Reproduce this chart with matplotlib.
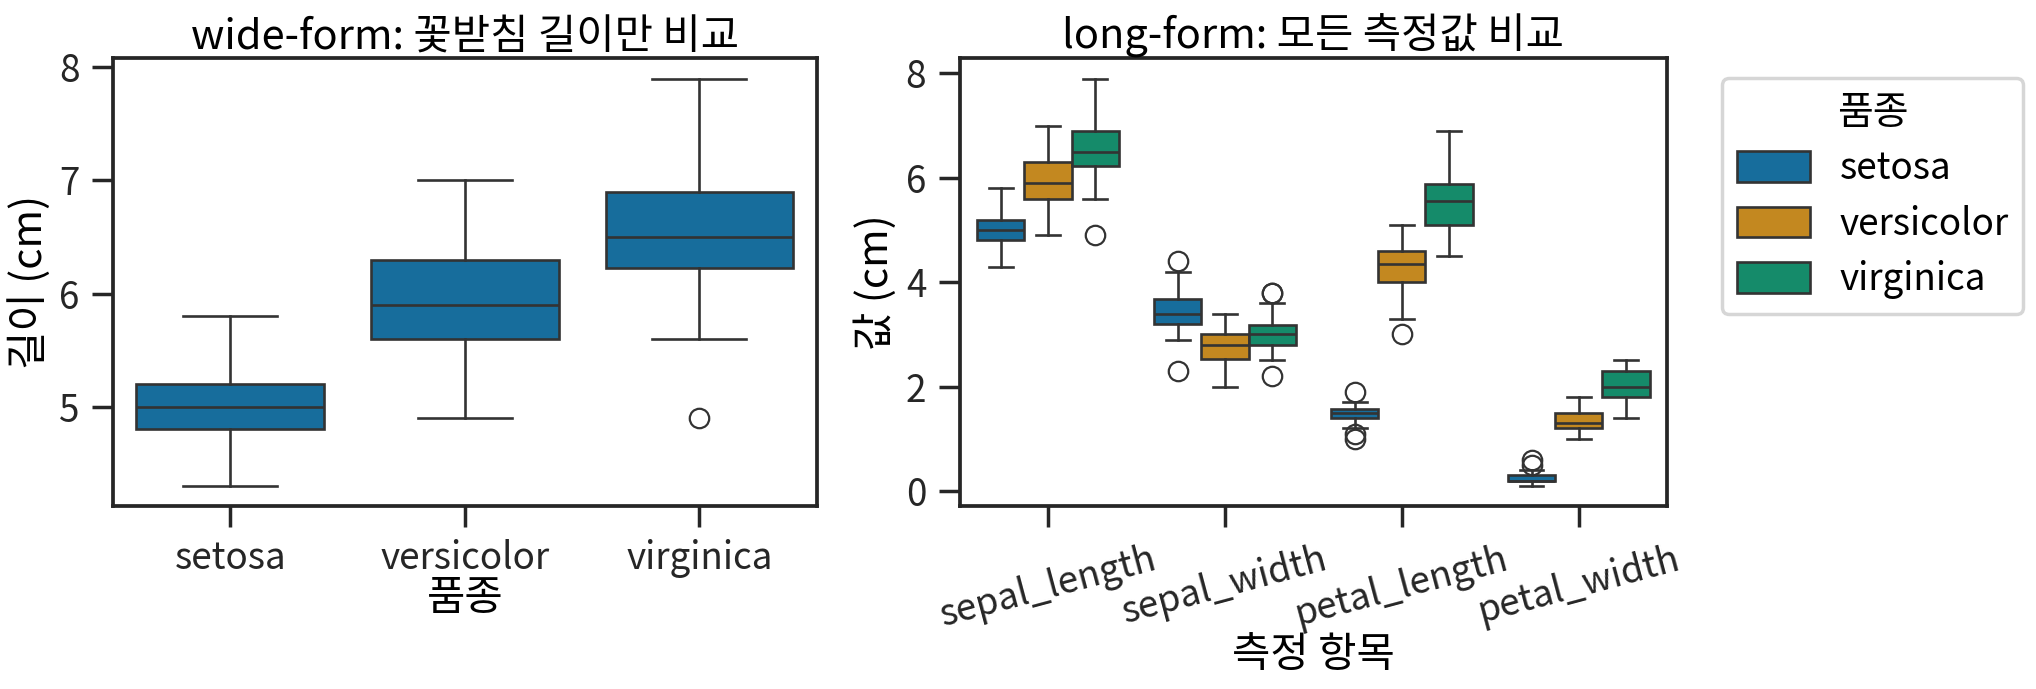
import colorsys
import matplotlib
matplotlib.use("Agg")
import matplotlib.pyplot as plt
from matplotlib.colors import to_rgb
from matplotlib.patches import Patch

plt.rcParams['font.family'] = ['Noto Sans CJK KR', 'DejaVu Sans']
plt.rcParams['axes.unicode_minus'] = False

# iris 요약 통계
species = ["setosa", "versicolor", "virginica"]
measures = ["sepal_length", "sepal_width", "petal_length", "petal_width"]

# [whislo, q1, med, q3, whishi] per species, per measure
stats_sepal_length = {
    "setosa":     [4.3, 4.8, 5.0, 5.2, 5.8],
    "versicolor": [4.9, 5.6, 5.9, 6.3, 7.0],
    "virginica":  [5.6, 6.225, 6.5, 6.9, 7.9],
}
stats_sepal_width = {
    "setosa":     [2.9, 3.2, 3.4, 3.675, 4.2],
    "versicolor": [2.0, 2.525, 2.8, 3.0, 3.4],
    "virginica":  [2.5, 2.8, 3.0, 3.175, 3.6],
}
stats_petal_length = {
    "setosa":     [1.2, 1.4, 1.5, 1.575, 1.7],
    "versicolor": [3.3, 4.0, 4.35, 4.6, 5.1],
    "virginica":  [4.5, 5.1, 5.55, 5.875, 6.9],
}
stats_petal_width = {
    "setosa":     [0.1, 0.2, 0.2, 0.3, 0.4],
    "versicolor": [1.0, 1.2, 1.3, 1.5, 1.8],
    "virginica":  [1.4, 1.8, 2.0, 2.3, 2.5],
}
fliers_sepal_length = {"setosa": [], "versicolor": [], "virginica": [4.9]}
fliers_sepal_width = {"setosa": [2.3, 4.4], "versicolor": [], "virginica": [2.2, 3.8, 3.8]}
fliers_petal_length = {"setosa": [1.0, 1.1, 1.9], "versicolor": [3.0], "virginica": []}
fliers_petal_width = {"setosa": [0.5, 0.6], "versicolor": [], "virginica": []}

all_stats = [stats_sepal_length, stats_sepal_width, stats_petal_length, stats_petal_width]
all_fliers = [fliers_sepal_length, fliers_sepal_width, fliers_petal_length, fliers_petal_width]

palette = ["#0173b2", "#de8f05", "#029e73"]  # colorblind


def desat(c, prop=0.75):
    h, l, s = colorsys.rgb_to_hls(*to_rgb(c))
    return colorsys.hls_to_rgb(h, l, s * prop)


colors = [desat(c) for c in palette]
line_c = "#333333"
lw = 1.9


def make_stat(vals, fl):
    lo, q1, med, q3, hi = vals
    return dict(whislo=lo, q1=q1, med=med, q3=q3, whishi=hi, fliers=fl)


def draw(ax, stats, positions, width, color):
    ax.bxp(stats, positions=positions, widths=width, capwidths=width / 2,
           patch_artist=True, manage_ticks=False,
           boxprops=dict(facecolor=color, edgecolor=line_c, linewidth=lw),
           medianprops=dict(color=line_c, linewidth=lw),
           whiskerprops=dict(color=line_c, linewidth=lw),
           capprops=dict(color=line_c, linewidth=lw),
           flierprops=dict(marker="o", markerfacecolor="none",
                           markeredgecolor=line_c, markersize=14,
                           markeredgewidth=1.6))


fig = plt.figure(figsize=(20.36, 6.89), dpi=100)
ax1 = fig.add_axes([0.0555, 0.2655, 0.3456, 0.6498])
ax2 = fig.add_axes([0.4713, 0.2655, 0.3476, 0.6498])

tick_fs = 26.5
label_fs = 30

# wide-form: sepal_length only
st = [make_stat(stats_sepal_length[s], fliers_sepal_length[s]) for s in species]
draw(ax1, st, range(3), 0.8, colors[0])
ax1.set_xlim(-0.5, 2.5)
ax1.set_xticks(range(3))
ax1.set_xticklabels(species)
ax1.set_yticks([5, 6, 7, 8])
ax1.set_ylim(4.12, 8.08)
ax1.set_title("wide-form: 꽃받침 길이만 비교", fontsize=label_fs, pad=6)
ax1.set_xlabel("품종", fontsize=label_fs, labelpad=0)
ax1.set_ylabel("길이 (cm)", fontsize=label_fs, labelpad=6)

# long-form: all measures by species
w = 0.8 / 3
for j, s in enumerate(species):
    st = [make_stat(all_stats[i][s], all_fliers[i][s]) for i in range(len(measures))]
    pos = [i + (j - 1) * w for i in range(len(measures))]
    draw(ax2, st, pos, w, colors[j])
ax2.set_xlim(-0.5, 3.5)
ax2.set_xticks(range(len(measures)))
ax2.set_xticklabels(measures, rotation=15)
ax2.set_yticks([0, 2, 4, 6, 8])
ax2.set_ylim(-0.29, 8.29)
ax2.set_title("long-form: 모든 측정값 비교", fontsize=label_fs, pad=6)
ax2.set_xlabel("측정 항목", fontsize=label_fs, labelpad=0)
ax2.set_ylabel("값 (cm)", fontsize=label_fs, labelpad=6)

for ax in (ax1, ax2):
    for sp in ax.spines.values():
        sp.set_linewidth(2.7)
        sp.set_color("#262626")
    ax.tick_params(axis="both", labelsize=tick_fs, length=15, width=2.5,
                   color="#262626", labelcolor="#262626", pad=9)

handles = [Patch(facecolor=colors[j], edgecolor=line_c, linewidth=lw, label=s)
           for j, s in enumerate(species)]
leg = fig.legend(handles=handles, title="품종", loc="upper left",
                 bbox_to_anchor=(0.8457, 0.887), borderaxespad=0,
                 fontsize=tick_fs, title_fontsize=28, frameon=True,
                 fancybox=True, edgecolor="0.8", handlelength=2.0,
                 handleheight=0.9, labelspacing=0.45)
leg.get_frame().set_linewidth(2.5)

fig.savefig("out.png", dpi=100)
